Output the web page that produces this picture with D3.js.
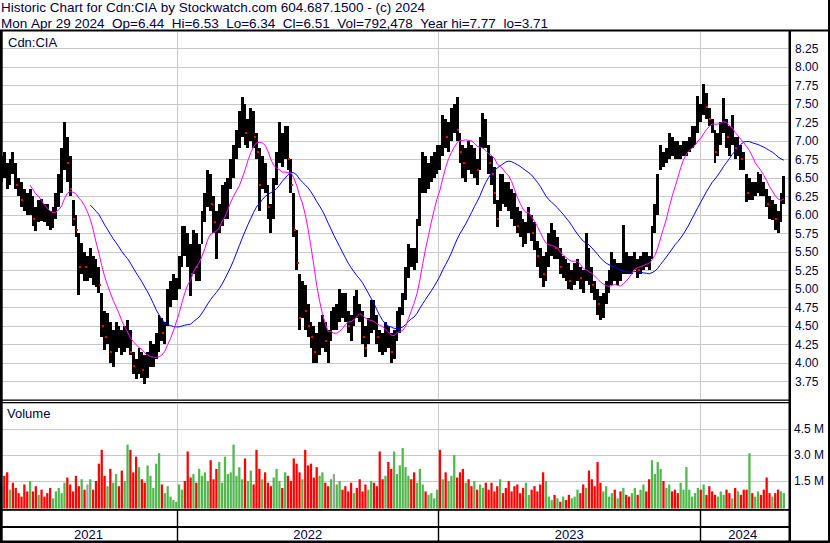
<!DOCTYPE html>
<html><head><meta charset="utf-8">
<script src="https://cdn.jsdelivr.net/npm/d3@7"></script>
<style>
body{margin:0;background:#fff}
svg{display:block}
text{font-family:Arial,"Liberation Sans",sans-serif;fill:#00003c}
</style>
</head><body>
<svg id="chart" width="830" height="543"></svg>
<script>
// ---------- data (4-calendar-day bins, starting 2021-04-29) ----------
const startDate = "2021-04-29";
const endDate = "2024-04-30";
const stepDays = 4;

const high = [
6.80,6.85,6.70,6.75,6.85,6.70,6.50,6.45,6.35,6.30,
6.35,6.25,6.10,6.20,6.22,6.15,6.15,6.05,6.10,6.30,
6.55,6.90,7.25,7.05,6.80,6.20,6.00,5.75,5.62,5.50,
5.45,5.55,5.45,5.40,5.30,4.94,4.70,4.67,4.55,4.45,
4.55,4.50,4.45,4.50,4.58,4.45,4.15,4.05,4.20,4.15,
4.10,4.15,4.30,4.25,4.40,4.65,4.60,4.55,5.00,5.10,
5.20,5.15,5.45,5.85,5.85,5.75,5.60,5.80,5.75,5.60,
6.05,6.30,6.60,6.55,6.25,6.05,6.15,6.40,6.45,6.50,
6.75,6.95,7.15,7.40,7.59,7.50,7.30,7.45,7.40,7.10,
6.90,6.80,6.70,6.40,6.15,6.50,6.85,7.25,7.10,7.20,
7.20,6.75,6.30,5.80,5.20,5.10,5.05,4.80,4.55,4.50,
4.40,4.55,4.65,4.55,4.45,4.70,4.75,4.80,5.00,4.95,
4.95,4.70,4.65,4.90,4.98,4.80,4.70,4.50,4.60,4.85,
4.85,4.65,4.45,4.40,4.55,4.50,4.40,4.45,4.70,4.75,
4.95,5.30,5.60,5.55,5.55,5.95,6.50,6.85,6.80,6.70,
6.80,6.85,6.95,6.95,7.35,7.30,7.25,7.45,7.50,7.59,
7.10,6.95,6.90,7.00,6.95,6.90,6.75,7.05,7.37,7.30,
6.95,6.80,6.65,6.20,6.55,6.55,6.45,6.45,6.35,6.30,
6.10,6.05,5.95,5.90,6.10,6.00,5.90,5.65,5.55,5.45,
5.50,5.75,5.89,5.80,5.70,5.55,5.45,5.40,5.35,5.25,
5.35,5.40,5.30,5.25,5.75,5.55,5.30,5.10,5.00,4.90,
4.95,5.10,5.25,5.50,5.40,5.35,5.35,5.86,5.50,5.45,
5.45,5.50,5.40,5.45,5.50,5.50,5.45,5.85,6.15,6.55,
6.95,6.85,6.90,7.10,7.05,7.00,7.00,6.95,7.00,7.00,
7.05,7.20,7.20,7.60,7.50,7.77,7.65,7.45,7.30,7.15,
7.10,7.25,7.58,7.30,7.20,7.35,7.05,7.05,6.95,6.85,
6.55,6.50,6.45,6.45,6.58,6.55,6.45,6.35,6.25,6.20,
6.15,6.05,6.30,6.53
];
const low = [
6.45,6.50,6.35,6.40,6.55,6.35,6.25,6.10,6.05,6.00,
6.00,5.85,5.78,5.90,5.92,5.90,5.85,5.80,5.82,5.95,
6.10,6.30,6.60,6.45,6.25,5.85,5.70,4.92,5.20,5.10,
5.10,5.15,5.05,5.02,4.95,4.35,4.17,4.25,4.00,3.95,
4.15,4.20,4.10,4.15,4.20,4.10,3.85,3.78,3.85,3.80,
3.71,3.80,3.95,3.95,4.05,4.15,4.30,4.25,4.50,4.75,
4.85,4.85,5.00,5.30,5.45,5.30,4.90,5.20,5.10,5.10,
5.60,5.90,6.10,6.05,5.75,5.40,5.75,5.85,5.95,5.95,
6.35,6.50,6.75,6.90,7.05,6.95,6.90,7.00,6.90,6.75,
6.05,6.35,6.30,5.95,5.75,5.95,6.40,6.70,6.65,6.75,
6.60,6.30,5.70,5.25,4.44,4.60,4.45,4.35,4.20,4.00,
4.00,4.10,4.20,4.15,4.00,4.30,4.45,4.45,4.55,4.60,
4.55,4.40,4.30,4.50,4.60,4.55,4.25,4.08,4.25,4.40,
4.45,4.25,4.15,4.10,4.15,4.20,4.00,4.05,4.30,4.40,
4.65,4.85,5.15,5.30,5.25,5.35,5.85,6.30,6.30,6.35,
6.45,6.50,6.55,6.60,6.80,6.90,6.85,7.00,7.10,7.00,
6.70,6.50,6.45,6.60,6.55,6.50,6.40,6.60,6.90,6.90,
6.55,6.40,6.15,5.84,6.05,6.15,6.10,6.05,5.95,5.85,
5.75,5.70,5.56,5.60,5.75,5.65,5.53,5.30,5.15,5.02,
5.10,5.30,5.45,5.40,5.40,5.20,5.15,5.10,5.00,4.98,
5.05,5.10,5.00,4.95,5.10,5.05,4.95,4.85,4.65,4.58,
4.60,4.80,4.95,5.05,5.10,5.05,5.10,5.20,5.20,5.20,
5.20,5.25,5.15,5.20,5.25,5.30,5.25,5.40,5.75,6.00,
6.60,6.65,6.70,6.75,6.80,6.75,6.75,6.75,6.80,6.80,
6.85,6.90,6.95,7.10,7.25,7.35,7.30,7.20,7.10,6.70,
6.80,6.95,7.10,6.90,6.80,6.95,6.75,6.80,6.60,6.60,
6.17,6.20,6.20,6.25,6.30,6.25,6.25,6.10,5.95,5.93,
5.80,5.75,5.90,6.15
];
const close = [
6.60,6.55,6.45,6.70,6.65,6.40,6.35,6.20,6.15,6.10,
6.25,5.95,5.90,6.10,6.05,6.00,5.95,5.90,6.00,6.20,
6.45,6.80,7.05,6.70,6.35,5.95,5.80,5.30,5.45,5.30,
5.30,5.35,5.25,5.20,5.05,4.50,4.35,4.50,4.15,4.30,
4.40,4.30,4.25,4.35,4.45,4.15,3.95,3.90,4.05,3.90,
3.80,4.05,4.10,4.15,4.30,4.55,4.40,4.50,4.90,4.95,
5.05,5.10,5.35,5.70,5.60,5.50,5.20,5.65,5.30,5.45,
5.95,6.20,6.45,6.15,5.90,5.80,6.05,6.15,6.30,6.35,
6.60,6.80,7.00,7.20,7.30,7.10,7.20,7.25,7.05,6.85,
6.40,6.55,6.45,6.10,6.00,6.40,6.70,6.95,6.90,7.05,
6.75,6.40,5.80,5.35,4.60,4.85,4.70,4.50,4.35,4.15,
4.10,4.40,4.50,4.30,4.20,4.60,4.60,4.70,4.80,4.75,
4.70,4.50,4.45,4.80,4.75,4.65,4.35,4.20,4.45,4.70,
4.60,4.35,4.30,4.25,4.40,4.35,4.15,4.30,4.60,4.65,
4.85,5.20,5.50,5.45,5.40,5.85,6.35,6.60,6.50,6.55,
6.65,6.70,6.85,6.75,7.20,7.05,7.10,7.30,7.40,7.15,
6.85,6.70,6.80,6.75,6.70,6.85,6.60,6.95,7.15,7.05,
6.70,6.55,6.30,5.95,6.40,6.30,6.25,6.20,6.10,6.00,
5.85,5.80,5.70,5.80,5.95,5.75,5.65,5.45,5.35,5.20,
5.30,5.60,5.70,5.55,5.60,5.30,5.35,5.25,5.10,5.15,
5.20,5.30,5.15,5.05,5.40,5.30,5.05,4.95,4.80,4.70,
4.80,5.00,5.15,5.30,5.20,5.25,5.20,5.40,5.35,5.30,
5.35,5.40,5.25,5.30,5.45,5.40,5.35,5.75,6.05,6.45,
6.80,6.75,6.80,7.00,6.90,6.85,6.80,6.85,6.90,6.95,
7.00,7.10,7.15,7.45,7.40,7.60,7.45,7.30,7.20,6.85,
7.00,7.15,7.30,7.05,6.95,7.10,6.90,6.95,6.75,6.70,
6.30,6.40,6.30,6.35,6.45,6.40,6.35,6.15,6.05,6.10,
5.95,5.85,6.20,6.51
];
// volume in millions of shares
const volume = [
1.2,1.8,2.0,1.0,1.4,1.1,0.8,0.6,1.3,0.9,
1.5,0.9,1.2,0.7,1.0,0.6,0.8,1.1,0.5,0.9,
1.1,0.8,1.4,1.7,1.3,0.9,1.8,1.2,1.6,1.0,
1.3,1.6,1.0,1.5,2.5,3.3,1.8,1.2,2.2,1.4,
1.9,1.2,2.1,1.5,3.6,3.3,2.0,2.9,2.3,1.6,
1.4,2.4,1.8,1.1,2.5,3.1,1.3,0.8,1.2,0.6,
0.4,0.3,1.3,1.0,1.5,3.2,1.7,1.9,1.4,2.2,
1.8,2.0,1.5,2.7,1.6,2.2,2.6,1.4,2.9,1.9,
2.0,3.6,1.8,2.3,1.6,2.8,1.5,2.1,1.3,3.3,
2.2,1.6,2.0,1.4,1.2,1.7,2.2,1.5,1.1,2.0,
1.8,1.5,2.8,2.5,2.0,1.6,3.3,2.4,2.5,1.7,
2.3,1.8,2.0,1.4,1.2,1.6,1.9,1.3,1.5,1.0,
1.2,0.9,1.4,0.8,1.1,1.6,0.9,1.3,1.0,1.5,
1.4,1.2,3.2,1.6,1.8,2.6,2.2,3.2,1.9,2.4,
3.4,2.3,1.8,1.6,2.0,1.4,2.2,1.3,0.9,0.7,
0.8,0.5,1.0,3.3,1.6,2.0,1.5,1.8,3.0,1.7,
2.0,2.2,1.4,1.6,1.2,1.5,1.0,1.3,1.1,1.4,
1.0,1.4,0.9,1.2,1.6,0.8,1.1,1.5,0.9,1.2,
1.3,0.8,1.1,1.4,0.7,1.0,1.2,0.9,1.3,2.0,
1.5,0.6,0.4,0.7,0.5,0.3,0.6,0.4,0.7,0.5,
0.6,1.0,0.8,1.3,1.1,2.1,1.6,1.2,2.6,1.4,
0.9,1.2,0.6,0.8,1.0,0.5,0.9,1.1,0.7,0.6,
0.8,1.1,0.7,1.0,1.3,0.9,1.6,2.7,1.9,2.6,
2.2,1.5,1.1,1.3,0.9,1.0,0.8,1.4,1.0,2.3,
1.0,0.6,0.8,1.1,1.0,1.3,0.7,1.2,0.9,0.7,
0.6,0.9,0.7,1.0,0.8,0.5,1.1,0.9,0.7,1.0,
1.0,3.1,0.8,0.6,0.9,0.7,1.0,1.7,0.8,0.6,
0.8,1.0,0.9,0.8
];
const priceTicks = [3.75,4.00,4.25,4.50,4.75,5.00,5.25,5.50,5.75,6.00,6.25,6.50,6.75,7.00,7.25,7.50,7.75,8.00,8.25];
const volumeTicks = [1.5,3.0,4.5];
const volumeTickLabels = ["1.5 M","3.0 M","4.5 M"];
const yearLabels = ["2021","2022","2023","2024"];
const yearStarts = ["2022-01-01","2023-01-01","2024-01-01"];
const maShort = 11;   // ~30 trading days in 4-day bins
const maLong = 32;    // ~90 trading days in 4-day bins
const headerLine1 = "Historic Chart for Cdn:CIA by Stockwatch.com 604.687.1500 - (c) 2024";
const headerLine2 = "Mon Apr 29 2024  Op=6.44  Hi=6.53  Lo=6.34  Cl=6.51  Vol=792,478  Year hi=7.77  lo=3.71";
const symbolLabel = "Cdn:CIA";
const volumeLabel = "Volume";

// ---------- scales ----------
const parse = d3.utcParse("%Y-%m-%d");
const t0 = parse(startDate);
const dates = d3.range(high.length + 1).map(i => d3.utcDay.offset(t0, i * stepDays));
const x = d3.scaleUtc().domain([t0, parse(endDate)]).range([0, 786]);
const yP = d3.scaleLinear().domain([3.75, 8.25]).range([381.3, 48.3]);
const yV = d3.scaleLinear().domain([0, 4.5]).range([507, 429]);

const svg = d3.select("#chart");
const GRID = "#c8c8c8";
const PLOT_R = 788.5;
const nb = s => s.replace(/ /g, "\u00a0");

// header
svg.append("text").attr("x", 1).attr("y", 12.3).style("font-size", "13.5px").text(nb(headerLine1));
svg.append("text").attr("x", 1).attr("y", 27.6).style("font-size", "13.5px").text(nb(headerLine2));

// price grid
svg.append("g").selectAll("line").data(priceTicks).join("line")
  .attr("x1", 2).attr("x2", PLOT_R)
  .attr("y1", d => Math.round(yP(d)) + 0.5).attr("y2", d => Math.round(yP(d)) + 0.5)
  .attr("stroke", GRID);
// volume grid
svg.append("g").selectAll("line").data(volumeTicks).join("line")
  .attr("x1", 2).attr("x2", PLOT_R)
  .attr("y1", d => Math.round(yV(d)) + 0.5).attr("y2", d => Math.round(yV(d)) + 0.5)
  .attr("stroke", GRID);
// vertical year grid lines
const ys = yearStarts.map(parse);
const vg = svg.append("g");
ys.forEach(d => {
  const xx = Math.round(x(d)) + 0.5;
  vg.append("line").attr("x1", xx).attr("x2", xx).attr("y1", 32).attr("y2", 399).attr("stroke", GRID);
  vg.append("line").attr("x1", xx).attr("x2", xx).attr("y1", 404).attr("y2", 509).attr("stroke", GRID);
});

// bar geometry
const bx = i => x(dates[i]);
const bw = i => x(dates[i + 1]) - x(dates[i]);
const cx = i => bx(i) + bw(i) / 2;

// volume bars
const volColor = i => {
  if (i === 0) return "#50b84c";
  if (close[i] > close[i - 1]) return "#50b84c";
  if (close[i] < close[i - 1]) return "#ff0000";
  return "#a0a0a0";
};
svg.append("g").selectAll("rect").data(volume).join("rect")
  .attr("x", (d, i) => bx(i) + 0.3)
  .attr("width", (d, i) => bw(i) - 0.6)
  .attr("y", d => yV(d))
  .attr("height", d => 508.5 - yV(d))
  .attr("fill", (d, i) => volColor(i));

// price bars (high-low range per bin)
svg.append("g").attr("shape-rendering", "crispEdges").selectAll("rect").data(high).join("rect")
  .attr("x", (d, i) => bx(i))
  .attr("width", (d, i) => bw(i))
  .attr("y", d => yP(d))
  .attr("height", (d, i) => Math.max(1, yP(low[i]) - yP(d)))
  .attr("fill", "#000");

// red close marks on clearly falling bins
const redIdx = close.map((d, i) => i).filter(i => i > 0 && close[i] < close[i - 1] - 0.12);
svg.append("g").attr("shape-rendering", "crispEdges").selectAll("rect").data(redIdx).join("rect")
  .attr("x", i => Math.round(cx(i)))
  .attr("y", i => Math.round(yP(close[i])) - 1)
  .attr("width", 2).attr("height", 2).attr("fill", "#ff0000");

// moving averages
function sma(arr, n) {
  return arr.map((d, i) => i < n - 1 ? null : d3.mean(arr.slice(i - n + 1, i + 1)));
}
const maS = sma(close, maShort);
const maL = sma(close, maLong);
const line = d3.line().defined(d => d[1] != null).x(d => cx(d[0])).y(d => yP(d[1]));
svg.append("path").datum(maL.map((v, i) => [i, v])).attr("d", line)
  .attr("fill", "none").attr("stroke", "#0000ff").attr("stroke-width", 1);
svg.append("path").datum(maS.map((v, i) => [i, v])).attr("d", line)
  .attr("fill", "none").attr("stroke", "#ff00ff").attr("stroke-width", 1);

// panel labels
svg.append("text").attr("x", 8).attr("y", 47).style("font-size", "13px").text(symbolLabel);
svg.append("text").attr("x", 7).attr("y", 418).style("font-size", "13px").text(volumeLabel);

// frame
const frame = svg.append("g").attr("fill", "#000");
frame.append("rect").attr("x", 0).attr("y", 29.5).attr("width", 830).attr("height", 2);
frame.append("rect").attr("x", 0).attr("y", 30).attr("width", 2.7).attr("height", 513);
frame.append("rect").attr("x", 788.5).attr("y", 30).attr("width", 2.5).attr("height", 513);
frame.append("rect").attr("x", 828).attr("y", 0).attr("width", 2).attr("height", 543);
frame.append("rect").attr("x", 0).attr("y", 399.5).attr("width", 789).attr("height", 1.3);
frame.append("rect").attr("x", 0).attr("y", 402).attr("width", 789).attr("height", 1.3);
frame.append("rect").attr("x", 0).attr("y", 509).attr("width", 789).attr("height", 1.8);
frame.append("rect").attr("x", 0).attr("y", 526).attr("width", 789).attr("height", 2);
frame.append("rect").attr("x", 0).attr("y", 540.5).attr("width", 830).attr("height", 2.5);
ys.forEach(d => {
  frame.append("rect").attr("x", Math.round(x(d)) - 0.2).attr("y", 510).attr("width", 1.4).attr("height", 31);
});

// year labels
const bounds = [0, ...ys.map(d => x(d)), x(dates[high.length])];
svg.append("g").selectAll("text").data(yearLabels).join("text")
  .attr("x", (d, i) => (bounds[i] + bounds[i + 1]) / 2)
  .attr("y", 539)
  .attr("text-anchor", "middle")
  .style("font-size", "13px")
  .text(d => d);

// right axes
const pAxis = svg.append("g").attr("transform", "translate(791,0)")
  .call(d3.axisRight(yP).tickValues(priceTicks).tickSize(0).tickPadding(4).tickFormat(d3.format(".2f")));
pAxis.select(".domain").remove();
pAxis.selectAll("text").style("font-size", "12px").attr("fill", "#00003c").style("font-family", "Arial, 'Liberation Sans', sans-serif");
const vAxis = svg.append("g").attr("transform", "translate(790,0)")
  .call(d3.axisRight(yV).tickValues(volumeTicks).tickSize(0).tickPadding(4).tickFormat((d, i) => volumeTickLabels[i]));
vAxis.select(".domain").remove();
vAxis.selectAll("text").style("font-size", "12px").attr("fill", "#00003c").style("font-family", "Arial, 'Liberation Sans', sans-serif");
</script>
</body></html>
